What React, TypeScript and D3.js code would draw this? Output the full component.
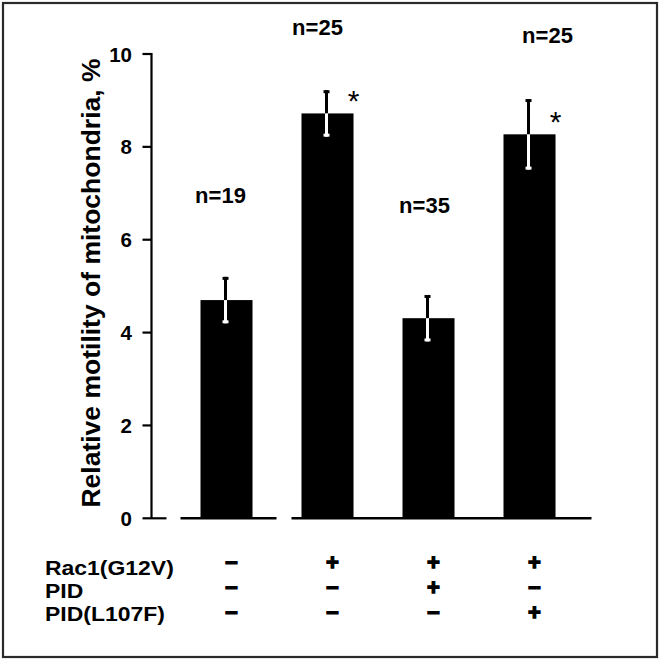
import React from "react";
import * as d3 from "d3";

const categories = ["ctrl", "rac1", "rac1_pid", "rac1_pidL107F"];
const means = [4.7, 8.72, 4.31, 8.27];
const errors = [0.5, 0.5, 0.5, 0.76];
const nLabels = ["n=19", "n=25", "n=35", "n=25"];
const significant = [false, true, false, true];
const yTicks = [0, 2, 4, 6, 8, 10];
const rowLabels = ["Rac1(G12V)", "PID", "PID(L107F)"];
const rac1Signs = ["−", "+", "+", "+"];
const pidSigns = ["−", "−", "+", "−"];
const pidL107FSigns = ["−", "−", "−", "+"];
const yLabel = "Relative motility of mitochondria, %";

const W = 660;
const H = 663;
const FONT = "'Liberation Sans', Arial, Helvetica, sans-serif";

export default function App() {
  const axisX = 151.5;
  const y = d3.scaleLinear().domain([0, 10]).range([518.3, 54]);
  const x = d3
    .scaleBand<string>()
    .domain(categories)
    .range([150, 150 + 101 * 4.515])
    .paddingInner(0.485)
    .paddingOuter(0.5);
  const bw = x.bandwidth();
  const cx = (c: string) => (x(c) as number) + bw / 2;

  // layout offsets for n labels (pixels above the error bar top, x shift)
  const nLift = [74, 55, 82, 56];
  const nShift = [-6, -10, -4, 18];
  const signRows = [rac1Signs, pidSigns, pidL107FSigns];
  const signRowY = [562, 587, 612];
  const labelBaseY = [575, 598, 621];
  const base = y(0);

  const first = categories[0];
  const second = categories[1];
  const last = categories[categories.length - 1];

  return (
    <svg
      width={W}
      height={H}
      style={{ position: "absolute", left: 0, top: 0, background: "#fff" }}
      fontFamily={FONT}
    >
      <rect x={0} y={0} width={W} height={H} fill="#fff" />
      <rect x={3} y={3} width={654} height={654} fill="none" stroke="#2a2a2a" strokeWidth={2.2} />

      {/* y axis */}
      <line x1={axisX} x2={axisX} y1={y(10) - 1} y2={base} stroke="#000" strokeWidth={2.2} />
      {yTicks.map((t) => (
        <g key={t}>
          <line
            x1={axisX - 9}
            x2={t === 0 ? axisX + 15 : axisX}
            y1={y(t)}
            y2={y(t)}
            stroke="#000"
            strokeWidth={2.2}
          />
          <text
            x={132}
            y={y(t) + 7.5}
            textAnchor="end"
            fontSize={20.5}
            fontWeight="bold"
            fill="#000"
          >
            {t}
          </text>
        </g>
      ))}
      <text
        transform={`translate(100,283) rotate(-90)`}
        textAnchor="middle"
        fontSize={26.5}
        fontWeight="bold"
        fill="#000"
      >
        {yLabel}
      </text>

      {/* baseline segments */}
      <line
        x1={(x(first) as number) - 20}
        x2={(x(first) as number) + bw + 24}
        y1={base}
        y2={base}
        stroke="#000"
        strokeWidth={2.6}
      />
      <line
        x1={(x(second) as number) - 10}
        x2={(x(last) as number) + bw + 36}
        y1={base}
        y2={base}
        stroke="#000"
        strokeWidth={2.6}
      />

      {/* bars */}
      {categories.map((c, i) => {
        const bx = x(c) as number;
        const top = y(means[i]);
        const ex = cx(c) - 1;
        const eTop = y(means[i] + errors[i]);
        const eBot = y(means[i] - errors[i]);
        return (
          <g key={c}>
            <rect x={bx} y={top} width={bw} height={base - top} fill="#000" />
            <line x1={ex} x2={ex} y1={eTop} y2={top} stroke="#000" strokeWidth={3} />
            <rect x={ex - 3} y={eTop} width={6} height={3} fill="#000" />
            <line x1={ex} x2={ex} y1={top} y2={eBot} stroke="#fff" strokeWidth={3} />
            <rect x={ex - 3} y={eBot - 3} width={6} height={3} fill="#fff" />
            <text
              x={cx(c) + nShift[i]}
              y={eTop - nLift[i]}
              textAnchor="middle"
              fontSize={22}
              fontWeight="bold"
              fill="#000"
            >
              {nLabels[i]}
            </text>
            {significant[i] && (
              <text
                x={bx + bw}
                y={top - 19 + 17}
                textAnchor="middle"
                fontSize={30}
                fill="#000"
              >
                *
              </text>
            )}
          </g>
        );
      })}

      {/* condition table */}
      {rowLabels.map((lab, r) => (
        <text
          key={lab}
          transform={`translate(45,${labelBaseY[r]}) scale(1.12,1)`}
          fontSize={20.5}
          fontWeight="bold"
          fill="#000"
        >
          {lab}
        </text>
      ))}
      {signRows.map((row, r) =>
        row.map((s, i) => (
          <text
            key={`${r}-${i}`}
            x={cx(categories[i]) + 5}
            y={signRowY[r] + 8}
            textAnchor="middle"
            fontSize={22}
            fontWeight="bold"
            stroke="#000"
            strokeWidth={1.3}
            fill="#000"
          >
            {s}
          </text>
        ))
      )}
    </svg>
  );
}
